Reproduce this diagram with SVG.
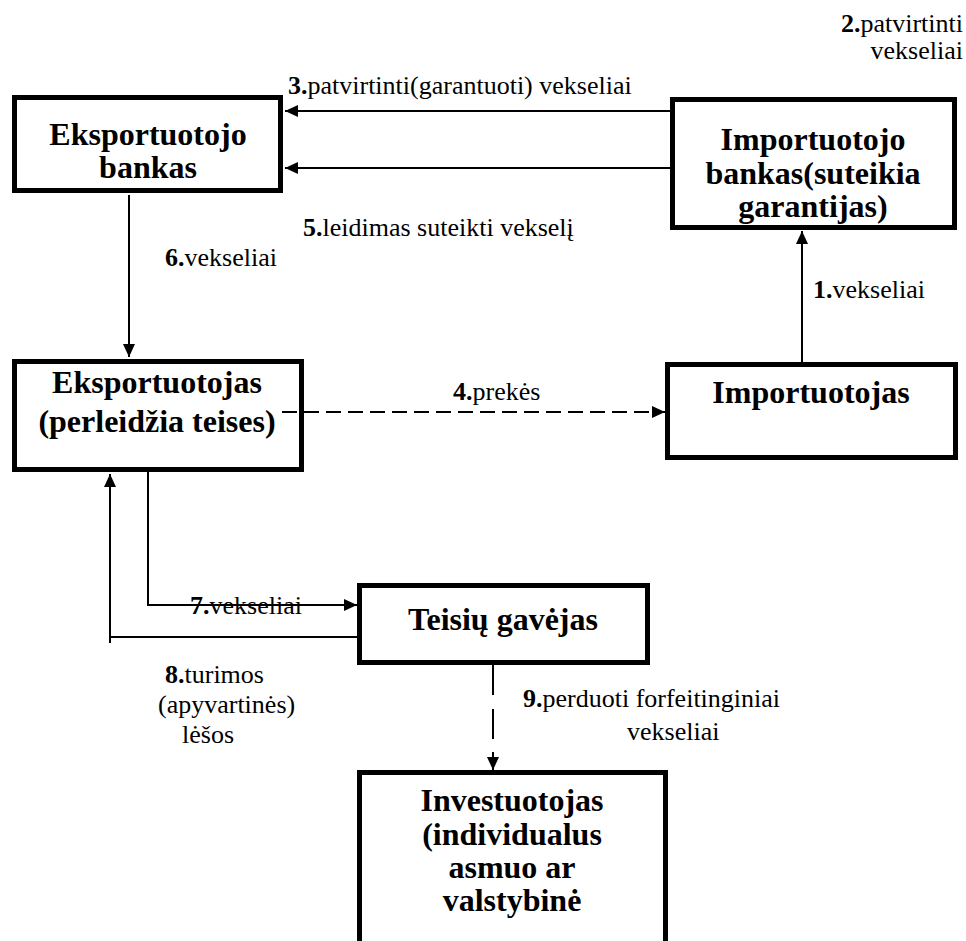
<svg xmlns="http://www.w3.org/2000/svg" width="966" height="941" viewBox="0 0 966 941">
<style>
.box{fill:#fff;stroke:#000;stroke-width:5}
.t{font-family:"Liberation Serif","Times New Roman",serif;font-weight:bold;font-size:32px;text-anchor:middle;fill:#000}
.l{font-family:"Liberation Serif","Times New Roman",serif;font-size:26px;fill:#000}
.l tspan.b{font-weight:bold}
.c{fill:none;stroke:#000;stroke-width:2}
</style>
<defs>
<marker id="ah" markerUnits="userSpaceOnUse" markerWidth="14" markerHeight="14" viewBox="0 0 14 14" refX="13" refY="7" orient="auto">
<path d="M0,1 L13,7 L0,13 Z" fill="#000"/>
</marker>
</defs>
<rect width="966" height="941" fill="#fff"/>
<g id="eksportuotojo-bankas">
<rect class="box" x="14.5" y="97.5" width="266" height="93"/>
<text class="t" x="148" y="145">Eksportuotojo</text>
<text class="t" x="148" y="178">bankas</text>
</g>
<g id="importuotojo-bankas">
<rect class="box" x="672.5" y="99.5" width="282" height="128"/>
<text class="t" x="813" y="150">Importuotojo</text>
<text class="t" x="813" y="184">bankas(suteikia</text>
<text class="t" x="813" y="217">garantijas)</text>
</g>
<g id="eksportuotojas">
<rect class="box" x="14.5" y="361.5" width="287" height="108"/>
<text class="t" x="157" y="393">Eksportuotojas</text>
<text class="t" x="157" y="432">(perleidžia teises)</text>
</g>
<g id="importuotojas">
<rect class="box" x="667.5" y="364.5" width="288" height="93"/>
<text class="t" x="811" y="403">Importuotojas</text>
</g>
<g id="teisiu-gavejas">
<rect class="box" x="359.5" y="585.5" width="288" height="77"/>
<text class="t" x="503" y="630">Teisių gavėjas</text>
</g>
<g id="investuotojas">
<rect class="box" x="359.5" y="772.5" width="306" height="200"/>
<text class="t" x="512" y="811">Investuotojas</text>
<text class="t" x="512" y="845">(individualus</text>
<text class="t" x="512" y="878">asmuo ar</text>
<text class="t" x="512" y="911">valstybinė</text>
</g>
<g id="connectors">
<line class="c" x1="670" y1="111" x2="285" y2="111" marker-end="url(#ah)"/>
<line class="c" x1="670" y1="168" x2="285" y2="168" marker-end="url(#ah)"/>
<line class="c" x1="129" y1="195" x2="129" y2="357" marker-end="url(#ah)"/>
<line class="c" x1="802" y1="362" x2="802" y2="231" marker-end="url(#ah)"/>
<line class="c" x1="282" y1="412" x2="665" y2="412" stroke-dasharray="15 7" marker-end="url(#ah)"/>
<polyline class="c" points="148,472 148,605 357,605" marker-end="url(#ah)"/>
<polyline class="c" points="357,637 110,637"/>
<line class="c" x1="110" y1="643" x2="110" y2="474" marker-end="url(#ah)"/>
<line class="c" x1="493" y1="665" x2="493" y2="758" stroke-width="4" stroke-dasharray="30 14"/>
<line class="c" x1="493" y1="752" x2="493" y2="770" marker-end="url(#ah)"/>
</g>
<g id="labels">
<text class="l" x="963" y="32" text-anchor="end"><tspan class="b">2.</tspan>patvirtinti</text>
<text class="l" x="963" y="59" text-anchor="end">vekseliai</text>
<text class="l" x="288" y="94"><tspan class="b">3.</tspan>patvirtinti(garantuoti) vekseliai</text>
<text class="l" x="303" y="236"><tspan class="b">5.</tspan>leidimas suteikti vekselį</text>
<text class="l" x="165" y="266"><tspan class="b">6.</tspan>vekseliai</text>
<text class="l" x="813" y="298"><tspan class="b">1.</tspan>vekseliai</text>
<text class="l" x="453" y="400"><tspan class="b">4.</tspan>prekės</text>
<text class="l" x="190" y="614"><tspan class="b">7.</tspan>vekseliai</text>
<text class="l" x="165" y="683"><tspan class="b">8.</tspan>turimos</text>
<text class="l" x="158" y="713">(apyvartinės)</text>
<text class="l" x="182" y="743">lėšos</text>
<text class="l" x="523" y="707"><tspan class="b">9.</tspan>perduoti forfeitinginiai</text>
<text class="l" x="627" y="740">vekseliai</text>
</g>
</svg>
